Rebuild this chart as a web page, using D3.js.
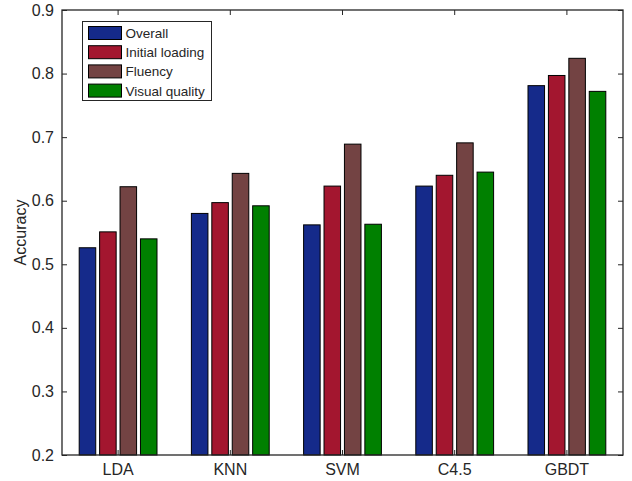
<!DOCTYPE html>
<html>
<head>
<meta charset="utf-8">
<script src="https://cdn.jsdelivr.net/npm/d3@7"></script>
<style>
  html, body { margin: 0; padding: 0; background: #fff; }
  svg { display: block; }
  text { font-family: "Liberation Sans", Arial, Helvetica, sans-serif; fill: #262626; }
</style>
</head>
<body>
<svg id="chart" width="632" height="481"></svg>
<script>
// Classifiers on the x axis
const categories = ["LDA", "KNN", "SVM", "C4.5", "GBDT"];

// Series names and accuracy per classifier
const seriesNames = ["Overall", "Initial loading", "Fluency", "Visual quality"];
const overall       = [0.526, 0.580, 0.562, 0.623, 0.781];
const initialLoad   = [0.551, 0.597, 0.623, 0.640, 0.797];
const fluency       = [0.622, 0.643, 0.689, 0.691, 0.824];
const visualQuality = [0.540, 0.592, 0.563, 0.645, 0.772];
const seriesColors  = ["#152a8a", "#a3162f", "#734343", "#008000"];

// Y-axis ticks
const yTicks = [0.2, 0.3, 0.4, 0.5, 0.6, 0.7, 0.8, 0.9];

const seriesValues = [overall, initialLoad, fluency, visualQuality];

const svg = d3.select("#chart");
const margin = { left: 62, right: 9, top: 10, bottom: 26 };
const W = 632, H = 481;
const x0 = margin.left, x1 = W - margin.right;
const y0 = H - margin.bottom, y1 = margin.top;

const x = d3.scaleBand().domain(categories).range([x0, x1]).paddingInner(0).paddingOuter(0);
const y = d3.scaleLinear().domain([0.2, 0.9]).range([y0, y1]);

const pitch = x.bandwidth() * 0.182;
const barW = pitch * 0.81;

// Bars
const groups = svg.append("g")
  .selectAll("g")
  .data(categories)
  .join("g")
  .attr("transform", d => `translate(${x(d) + x.bandwidth() / 2},0)`);

groups.selectAll("rect")
  .data((d, i) => seriesValues.map((vals, s) => ({ s, v: vals[i] })))
  .join("rect")
  .attr("x", d => (d.s - 1.5) * pitch - barW / 2)
  .attr("y", d => y(d.v))
  .attr("width", barW)
  .attr("height", d => y(0.2) - y(d.v))
  .attr("fill", d => seriesColors[d.s])
  .attr("stroke", "#000")
  .attr("stroke-width", 1);

// Axes: left/bottom with labels, right/top mirrored ticks only
const tickLen = 5;
const axisColor = "#262626";

const yAxis = d3.axisLeft(y).tickValues(yTicks).tickFormat(d3.format(".1f")).tickSizeInner(-tickLen).tickSizeOuter(0).tickPadding(8);
const gy = svg.append("g").attr("transform", `translate(${x0},0)`).call(yAxis);
gy.selectAll("text").style("font-size", "16px").attr("fill", axisColor);

const yAxisR = d3.axisRight(y).tickValues(yTicks).tickFormat("").tickSizeInner(-tickLen).tickSizeOuter(0);
const gyr = svg.append("g").attr("transform", `translate(${x1},0)`).call(yAxisR);

const xAxis = d3.axisBottom(x).tickSizeInner(-tickLen).tickSizeOuter(0).tickPadding(9);
const gx = svg.append("g").attr("transform", `translate(0,${y0})`).call(xAxis);
gx.selectAll("text").style("font-size", "16px").attr("fill", axisColor);

const xAxisT = d3.axisTop(x).tickFormat("").tickSizeInner(-tickLen).tickSizeOuter(0);
const gxt = svg.append("g").attr("transform", `translate(0,${y1})`).call(xAxisT);

[gy, gyr, gx, gxt].forEach(g => {
  g.select(".domain").remove();
  g.selectAll(".tick line").attr("stroke", axisColor);
});

// Box frame
svg.append("rect")
  .attr("x", x0).attr("y", y1)
  .attr("width", x1 - x0).attr("height", y0 - y1)
  .attr("fill", "none").attr("stroke", axisColor).attr("stroke-width", 1.3);

// Y-axis title
svg.append("text")
  .attr("transform", `translate(26,${(y0 + y1) / 2}) rotate(-90)`)
  .attr("text-anchor", "middle")
  .style("font-size", "16px")
  .text("Accuracy");

// Legend
const lg = svg.append("g").attr("transform", "translate(82.5,21.5)");
lg.append("rect")
  .attr("width", 129).attr("height", 79)
  .attr("fill", "#fff").attr("stroke", axisColor).attr("stroke-width", 1);
const items = lg.selectAll("g.item")
  .data(seriesNames)
  .join("g")
  .attr("class", "item")
  .attr("transform", (d, i) => `translate(6,${5 + i * 19.2})`);
items.append("rect")
  .attr("width", 33).attr("height", 13)
  .attr("fill", (d, i) => seriesColors[i])
  .attr("stroke", "#000").attr("stroke-width", 1);
items.append("text")
  .attr("x", 37).attr("y", 11.5)
  .style("font-size", "13.5px")
  .attr("fill", "#000")
  .text(d => d);
</script>
</body>
</html>
